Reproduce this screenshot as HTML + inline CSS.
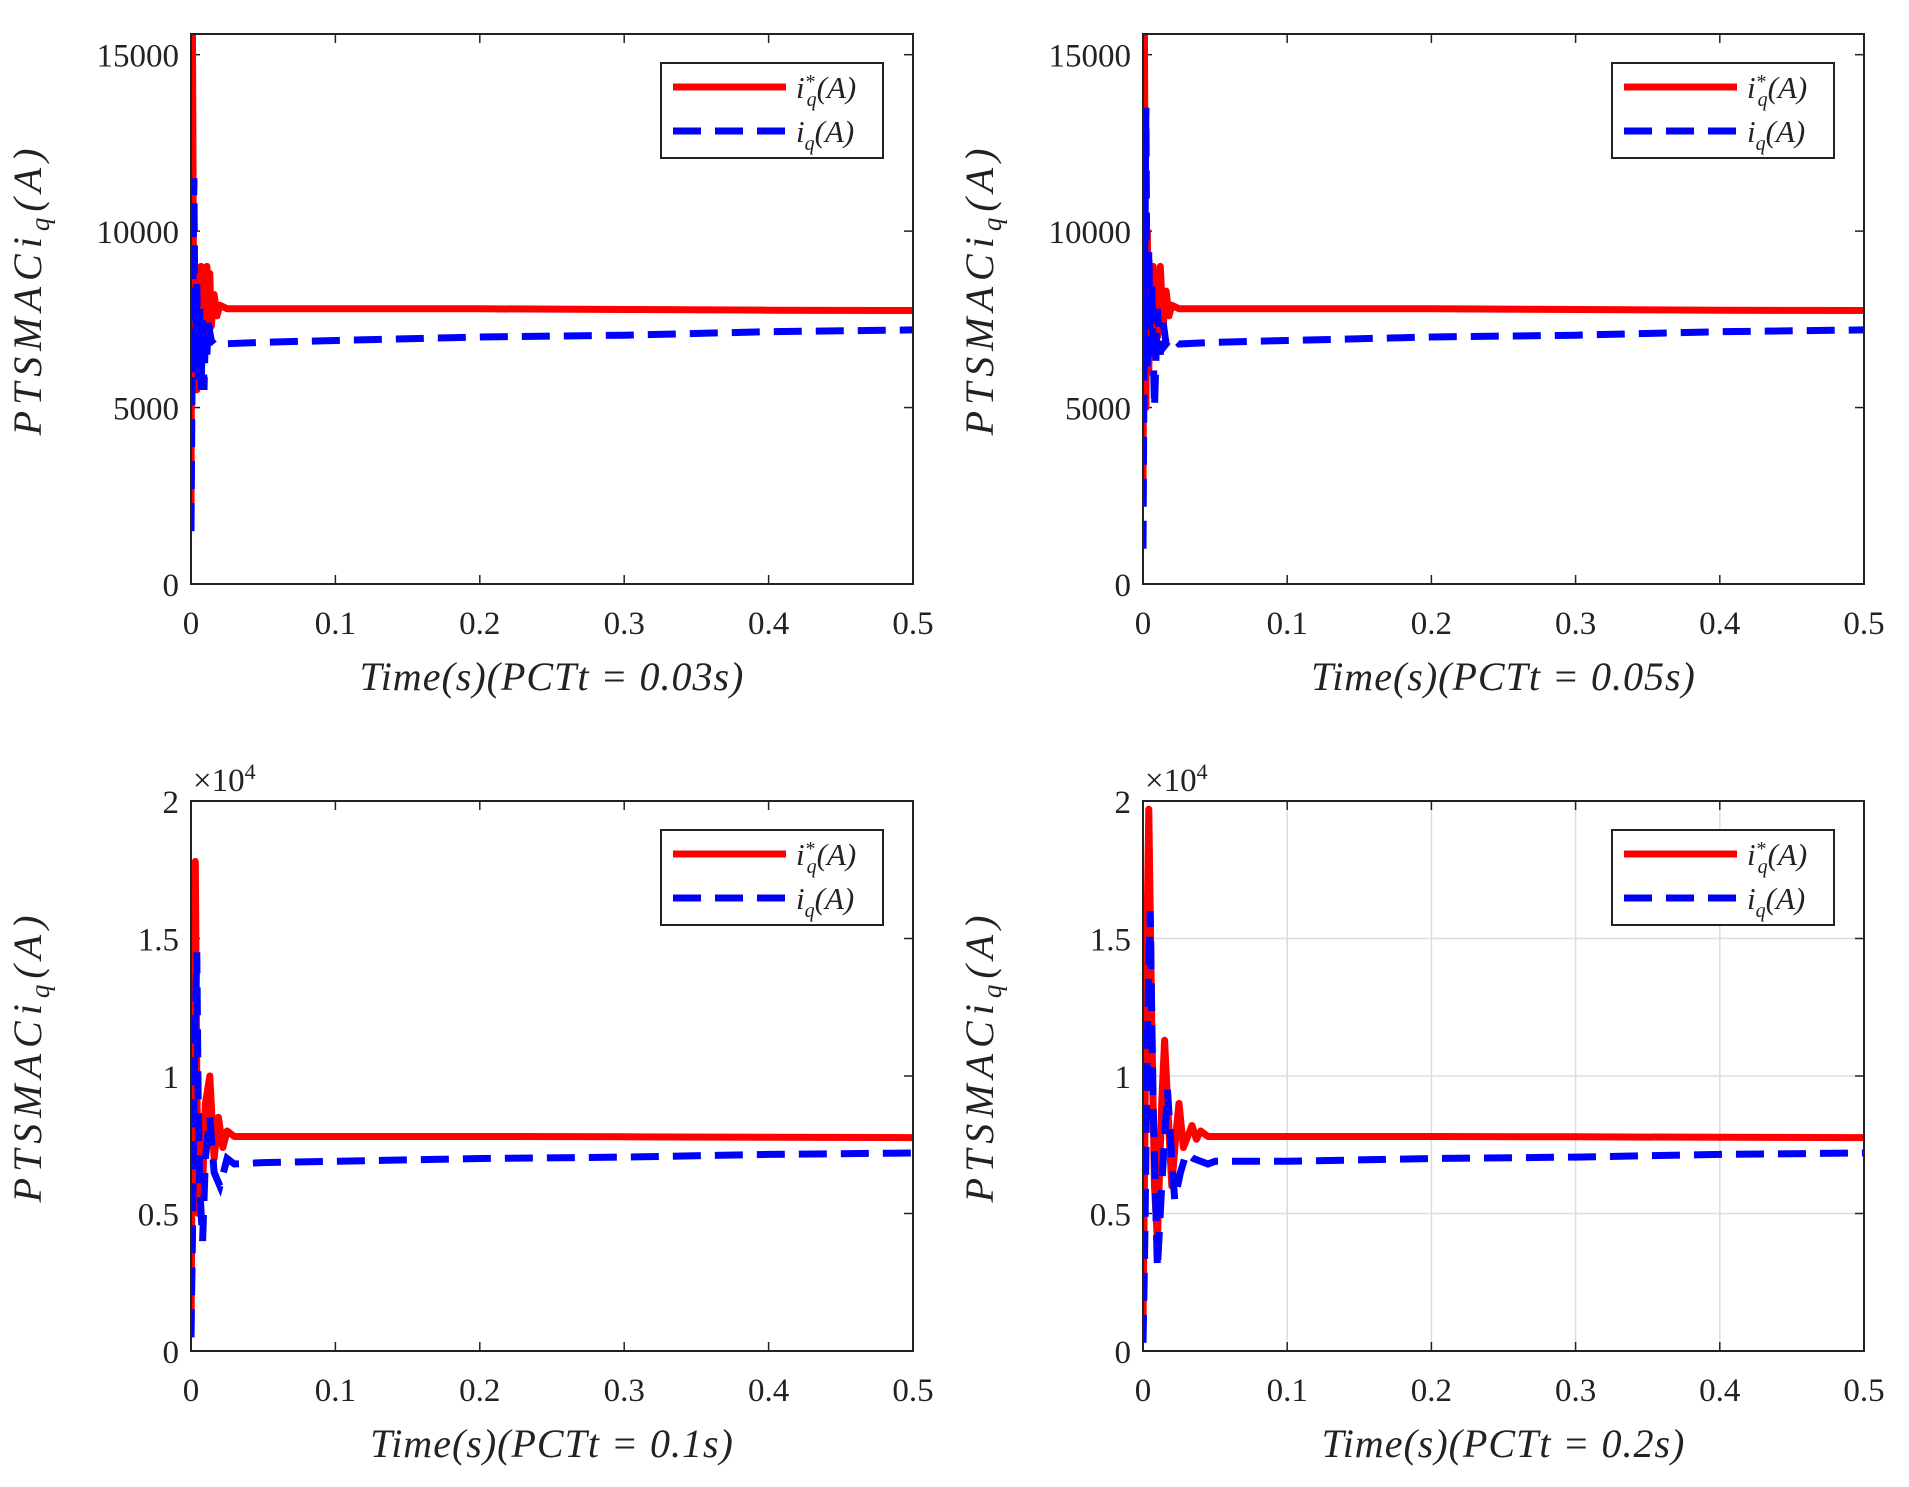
<!DOCTYPE html>
<html><head><meta charset="utf-8"><style>
body{margin:0;background:#fff}
svg{display:block}
text{font-family:"Liberation Serif",serif;fill:#222}
</style></head><body>
<svg id="fig" width="1909" height="1487" viewBox="0 0 1909 1487"></svg>
<script>
// ---- data ----
const xTicks=[0,0.1,0.2,0.3,0.4,0.5];
const xTickLabels=["0","0.1","0.2","0.3","0.4","0.5"];
const yTicksTop=[0,5000,10000,15000];
const yTickLabelsTop=["0","5000","10000","15000"];
const yTicksBot=[0,5000,10000,15000,20000];
const yTickLabelsBot=["0","0.5","1","1.5","2"];
const xLabels=["Time(s)(PCTt = 0.03s)","Time(s)(PCTt = 0.05s)","Time(s)(PCTt = 0.1s)","Time(s)(PCTt = 0.2s)"];

const p1RedT=[0,0.001,0.002,0.003,0.004,0.005,0.006,0.007,0.008,0.009,0.010,0.011,0.012,0.013,0.014,0.016,0.018,0.02,0.025,0.03,0.1,0.2,0.3,0.4,0.5];
const p1RedV=[2000,16000,6000,9000,5500,8500,6500,9000,7500,8800,7000,9000,7500,8800,7300,8200,7600,7900,7800,7800,7800,7800,7780,7760,7750];
const p1BlueT=[0,0.001,0.002,0.003,0.004,0.005,0.006,0.007,0.008,0.009,0.010,0.011,0.012,0.014,0.016,0.02,0.05,0.1,0.2,0.3,0.4,0.5];
const p1BlueV=[1500,7000,11500,6000,8500,5800,7800,5500,7500,5500,7200,6500,7400,6900,6800,6800,6850,6900,7000,7050,7150,7200];

const p2RedT=[0,0.001,0.002,0.003,0.004,0.005,0.006,0.007,0.008,0.009,0.010,0.012,0.014,0.016,0.018,0.02,0.025,0.03,0.1,0.2,0.3,0.4,0.5];
const p2RedV=[2200,16000,5000,10000,6000,9000,6500,9000,7000,8800,7000,9000,7300,8300,7600,7900,7800,7800,7800,7800,7780,7760,7750];
const p2BlueT=[0,0.001,0.002,0.003,0.004,0.005,0.006,0.008,0.010,0.012,0.014,0.016,0.02,0.025,0.05,0.1,0.2,0.3,0.4,0.5];
const p2BlueV=[1000,8000,13500,6000,9500,6500,8500,5000,7800,6500,7400,6800,7000,6800,6850,6900,7000,7050,7150,7200];

const p3RedT=[0,0.001,0.002,0.003,0.004,0.005,0.006,0.008,0.010,0.013,0.016,0.019,0.022,0.025,0.03,0.04,0.1,0.2,0.3,0.4,0.5];
const p3RedV=[500,9000,14000,17800,10000,5000,8500,6000,9000,10000,7000,8500,7400,8000,7800,7800,7800,7800,7790,7770,7760];
const p3BlueT=[0,0.001,0.002,0.003,0.004,0.005,0.006,0.008,0.010,0.013,0.016,0.02,0.025,0.03,0.05,0.1,0.2,0.3,0.4,0.5];
const p3BlueV=[500,4000,9000,12000,14500,9000,6000,4000,7000,8500,6500,6000,7000,6800,6850,6900,7000,7050,7150,7200];

const p4RedT=[0,0.001,0.002,0.003,0.004,0.006,0.008,0.010,0.013,0.015,0.018,0.020,0.023,0.025,0.028,0.031,0.034,0.037,0.04,0.045,0.05,0.1,0.2,0.3,0.4,0.5];
const p4RedV=[1000,6000,12000,16000,19700,12000,6000,4000,9000,11300,8000,6000,8000,9000,7400,7800,8200,7700,8000,7800,7800,7800,7800,7790,7770,7760];
const p4BlueT=[0,0.001,0.002,0.003,0.004,0.005,0.007,0.010,0.013,0.017,0.020,0.022,0.026,0.03,0.035,0.045,0.05,0.1,0.2,0.3,0.4,0.5];
const p4BlueV=[300,3000,7000,11000,14000,16000,9000,3000,6000,9500,7000,5500,6500,7200,7000,6800,6900,6900,7000,7050,7150,7200];

const NS="http://www.w3.org/2000/svg";
const svg=document.getElementById('fig');
function mk(tag,attrs,parent){const e=document.createElementNS(NS,tag);for(const k in attrs)e.setAttribute(k,attrs[k]);(parent||svg).appendChild(e);return e;}

function panel(idx,L,R,T,B,ymax,yTicks,yLabels,grid,expo,rT,rV,bT,bV){
  const g=mk('g',{});
  
  
  const sx=t=>L+(t/0.5)*(R-L);
  const sy=v=>B-(v/ymax)*(B-T);
  const cp='clip'+idx;
  const c=mk('clipPath',{id:cp},g);mk('rect',{x:L,y:T,width:R-L,height:B-T},c);
  if(grid){
    xTicks.forEach(t=>{const l=mk('line',{x1:sx(t),x2:sx(t),y1:T,y2:B,stroke:'#ddd','stroke-width':1.5},g);});
    yTicks.forEach(v=>{const l=mk('line',{x1:L,x2:R,y1:sy(v),y2:sy(v),stroke:'#ddd','stroke-width':1.5},g);});
  }
  xTicks.forEach((t,i)=>{
    mk('line',{x1:sx(t),x2:sx(t),y1:B,y2:B-9,stroke:'#222','stroke-width':1.5},g);
    mk('line',{x1:sx(t),x2:sx(t),y1:T,y2:T+9,stroke:'#222','stroke-width':1.5},g);
    const tx=mk('text',{x:sx(t),y:B+50,'text-anchor':'middle','font-size':33},g);tx.textContent=xTickLabels[i];
    
  });
  yTicks.forEach((v,i)=>{
    mk('line',{x1:L,x2:L+9,y1:sy(v),y2:sy(v),stroke:'#222','stroke-width':1.5},g);
    mk('line',{x1:R,x2:R-9,y1:sy(v),y2:sy(v),stroke:'#222','stroke-width':1.5},g);
    const tx=mk('text',{x:L-12,y:sy(v)+12,'text-anchor':'end','font-size':33},g);tx.textContent=yLabels[i];
    
  });
  const pts=(ts,vs)=>ts.map((t,i)=>sx(t).toFixed(1)+','+sy(Math.min(vs[i],ymax*1.05)).toFixed(1)).join(' ');
  const red=mk('polyline',{points:pts(rT,rV),fill:'none',stroke:'#ff0000','stroke-width':7,'stroke-linejoin':'round','clip-path':'url(#'+cp+')'},g);
  
  const blue=mk('polyline',{points:pts(bT,bV),fill:'none',stroke:'#0000ff','stroke-width':7,'stroke-dasharray':'28 14','clip-path':'url(#'+cp+')'},g);
  
  const bx=mk('rect',{x:L,y:T,width:R-L,height:B-T,fill:'none',stroke:'#222','stroke-width':2},g);
  
  const xl=mk('text',{x:(L+R)/2,y:B+106,'text-anchor':'middle','font-size':40,'font-style':'italic','letter-spacing':'1'},g);xl.textContent=xLabels[idx];
  
  const yl=mk('text',{x:0,y:0,'text-anchor':'middle','font-size':40,'font-style':'italic','letter-spacing':'6',transform:'translate('+(L-150)+','+((T+B)/2-20)+') rotate(-90)'},g);
  yl.innerHTML='PTSMACi<tspan font-size="27" dy="8">q</tspan><tspan dy="-8">(A)</tspan>';
  
  if(expo){const e=mk('text',{x:L+2,y:T-10,'font-size':33},g);e.innerHTML='×10<tspan font-size="22" dy="-12">4</tspan>';
    }
  const lx=R-252,ly=T+29,lw=222,lh=95;
  const lg=mk('g',{},g);
  mk('rect',{x:lx,y:ly,width:lw,height:lh,fill:'#fff',stroke:'#222','stroke-width':2},lg);
  mk('line',{x1:lx+12,x2:lx+125,y1:ly+24,y2:ly+24,stroke:'#ff0000','stroke-width':7},lg);
  mk('line',{x1:lx+12,x2:lx+125,y1:ly+68,y2:ly+68,stroke:'#0000ff','stroke-width':7,'stroke-dasharray':'28 14'},lg);
  const t1=mk('text',{x:lx+135,y:ly+35,'font-size':31,'font-style':'italic'},lg);
  t1.innerHTML='i<tspan font-size="20" dy="-10">*</tspan><tspan font-size="20" dx="-8" dy="18">q</tspan><tspan dy="-8">(A)</tspan>';
  
  const t2=mk('text',{x:lx+135,y:ly+79,'font-size':31,'font-style':'italic'},lg);
  t2.innerHTML='i<tspan font-size="20" dy="8">q</tspan><tspan dy="-8">(A)</tspan>';
  
}
panel(0,191,913,34,584,15586,yTicksTop,yTickLabelsTop,false,false,p1RedT,p1RedV,p1BlueT,p1BlueV);
panel(1,1143,1864,34,584,15586,yTicksTop,yTickLabelsTop,false,false,p2RedT,p2RedV,p2BlueT,p2BlueV);
panel(2,191,913,801,1351,20000,yTicksBot,yTickLabelsBot,false,true,p3RedT,p3RedV,p3BlueT,p3BlueV);
panel(3,1143,1864,801,1351,20000,yTicksBot,yTickLabelsBot,true,true,p4RedT,p4RedV,p4BlueT,p4BlueV);
</script>
</body></html>
